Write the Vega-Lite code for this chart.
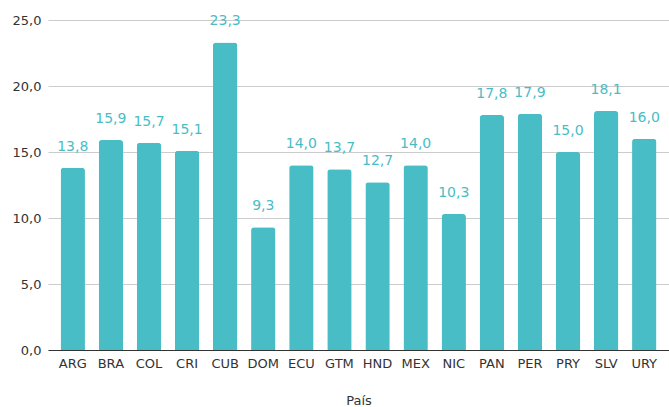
{
  "$schema": "https://vega.github.io/schema/vega-lite/v6.json",
  "width": 621,
  "height": 330,
  "autosize": "none",
  "padding": {"left": 48, "top": 20, "right": 0, "bottom": 57},
  "config": {
    "locale": {"number": {"decimal": ",", "thousands": ".", "grouping": [3], "currency": ["", " €"]}},
    "view": {"stroke": null},
    "font": "DejaVu Sans"
  },
  "data": {
    "values": [
      {"pais": "ARG", "valor": 13.8},
      {"pais": "BRA", "valor": 15.9},
      {"pais": "COL", "valor": 15.7},
      {"pais": "CRI", "valor": 15.1},
      {"pais": "CUB", "valor": 23.3},
      {"pais": "DOM", "valor": 9.3},
      {"pais": "ECU", "valor": 14.0},
      {"pais": "GTM", "valor": 13.7},
      {"pais": "HND", "valor": 12.7},
      {"pais": "MEX", "valor": 14.0},
      {"pais": "NIC", "valor": 10.3},
      {"pais": "PAN", "valor": 17.8},
      {"pais": "PER", "valor": 17.9},
      {"pais": "PRY", "valor": 15.0},
      {"pais": "SLV", "valor": 18.1},
      {"pais": "URY", "valor": 16.0}
    ]
  },
  "encoding": {
    "x": {
      "field": "pais", "type": "nominal", "sort": null, "title": "País",
      "scale": {"paddingInner": 0.36, "paddingOuter": 0.33},
      "axis": {"labelAngle": 0, "labelFontSize": 13, "labelColor": "#333333", "labelPadding": 7, "ticks": false,
               "domainColor": "#333333", "titleFontSize": 13, "titleFontWeight": "normal", "titleColor": "#333333", "titlePadding": 24}
    },
    "y": {
      "field": "valor", "type": "quantitative", "title": null,
      "scale": {"domain": [0, 25], "nice": false},
      "axis": {"values": [0, 5, 10, 15, 20, 25], "format": ".1f", "labelFontSize": 13, "labelColor": "#333333",
               "ticks": false, "domain": false, "labelPadding": 7, "gridColor": "#cccccc"}
    }
  },
  "layer": [
    {"mark": {"type": "bar", "color": "#48BDC6", "cornerRadiusTopLeft": 3, "cornerRadiusTopRight": 3}},
    {"mark": {"type": "text", "color": "#48BDC6", "fontSize": 14, "dy": -14, "baseline": "bottom"},
     "encoding": {"text": {"field": "valor", "type": "quantitative", "format": ".1f"}}}
  ]
}
